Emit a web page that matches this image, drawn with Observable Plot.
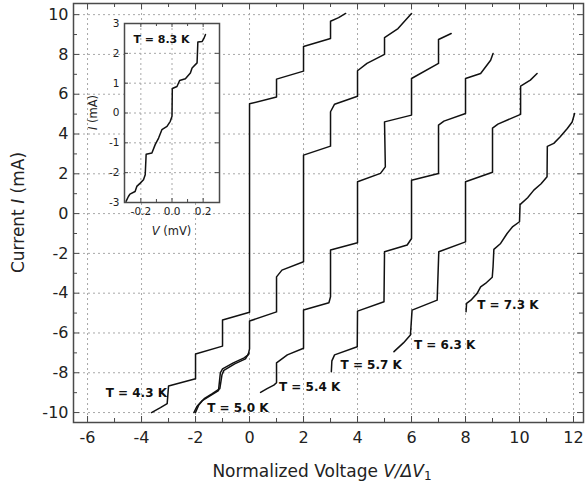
<!DOCTYPE html>
<html><head><meta charset="utf-8">
<script src="https://cdn.jsdelivr.net/npm/d3@7"></script>
<script src="https://cdn.jsdelivr.net/npm/@observablehq/plot@0.6"></script>
<style>
html,body{margin:0;padding:0;background:#fff;}
#wrap{position:relative;width:585px;height:491px;overflow:hidden;}
#inset{position:absolute;left:90px;top:15px;}
svg{font-family:"DejaVu Sans",sans-serif;}
</style></head><body>
<div id="wrap"><div id="main"></div><div id="inset"></div></div>
<script>
// ---------- data ----------
const v43 = [-3.63, -3.3, -3.05, -3.0, -2.0, -2.0, -1.0, -1.0, 0.0, 0.0, 1.0, 1.0, 2.0, 2.0, 3.0, 3.0, 3.3, 3.56];
const i43 = [-10.0, -9.75, -9.55, -8.67, -8.3, -7.06, -6.66, -5.35, -4.96, 5.52, 5.86, 6.76, 7.16, 8.4, 8.8, 9.67, 9.85, 10.06];

const v50 = [-2.06, -1.95, -1.75, -1.45, -1.15, -1.08, -1.0, -0.6, -0.2, -0.05, 0.0, 0.0, 1.0, 1.0, 1.2, 2.0, 2.0, 3.0, 3.0, 3.15, 4.0, 4.0, 4.35, 5.0, 5.0, 5.5, 6.0];
const i50 = [-10.0, -9.7, -9.4, -9.15, -8.9, -8.0, -7.8, -7.5, -7.25, -7.1, -6.8, -5.4, -4.94, -3.18, -2.84, -2.42, 2.94, 3.39, 5.12, 5.5, 5.9, 7.18, 7.55, 8.0, 8.85, 9.3, 10.06];
const v50b = [-2.0, -1.88, -1.68, -1.38, -1.1, -1.02, -0.95, -0.55, -0.15, -0.02];
const i50b = [-10.0, -9.62, -9.3, -9.05, -8.8, -8.1, -7.88, -7.55, -7.3, -7.0];

const v54 = [0.41, 0.65, 0.9, 1.0, 1.0, 1.4, 2.0, 2.0, 2.94, 3.0, 3.0, 4.0, 4.0, 4.85, 5.03, 5.0, 6.0, 6.0, 7.0, 7.0, 7.47];
const i54 = [-8.99, -8.8, -8.62, -8.5, -7.5, -7.1, -6.77, -4.85, -4.48, -4.18, -1.83, -1.47, 1.6, 2.02, 2.35, 4.61, 4.95, 6.79, 7.55, 8.75, 9.05];

const v57 = [3.03, 3.05, 3.15, 3.99, 4.0, 4.98, 5.0, 5.84, 6.0, 6.0, 7.0, 7.0, 7.2, 8.0, 8.0, 8.56, 8.93, 9.02];
const i57 = [-7.95, -7.4, -7.1, -6.69, -4.9, -4.43, -1.92, -1.58, -1.25, 1.68, 2.02, 4.45, 4.65, 5.03, 6.79, 7.04, 7.71, 8.05];

const v63 = [5.35, 5.7, 5.96, 6.02, 6.95, 7.01, 8.0, 8.0, 9.0, 9.0, 9.2, 10.04, 10.04, 10.4, 10.65];
const i63 = [-6.94, -6.5, -6.1, -4.85, -4.35, -1.92, -1.42, 1.6, 2.08, 4.3, 4.5, 4.99, 6.41, 6.71, 7.04];

const v73 = [8.02, 8.04, 8.2, 8.43, 8.56, 8.74, 8.99, 9.02, 9.05, 9.3, 9.54, 9.75, 10.0, 10.02, 10.3, 10.53, 10.8, 11.02, 11.03, 11.27, 11.5, 11.77, 11.95, 12.04];
const i73 = [-4.93, -4.51, -4.35, -4.01, -3.68, -3.51, -3.2, -2.67, -1.8, -1.5, -1.0, -0.65, -0.41, 0.45, 0.8, 1.18, 1.5, 1.85, 3.38, 3.53, 3.85, 4.28, 4.6, 5.03];

// inset, T = 8.3 K
const vInset = [-0.295, -0.28, -0.27, -0.237, -0.226, -0.204, -0.183, -0.172, -0.166, -0.129, -0.108, -0.086, -0.065, -0.032, -0.011, 0.0, 0.002, 0.032, 0.049, 0.086, 0.118, 0.129, 0.161, 0.166, 0.194, 0.204, 0.215];
const iInset = [-2.96, -2.8, -2.72, -2.63, -2.46, -2.35, -2.24, -2.07, -1.38, -1.34, -1.06, -0.84, -0.56, -0.45, -0.28, -0.11, 0.82, 0.89, 1.09, 1.15, 1.34, 1.51, 1.68, 2.38, 2.40, 2.49, 2.63];

// curve labels
const labelText = ["T = 4.3 K", "T = 5.0 K", "T = 5.4 K", "T = 5.7 K", "T = 6.3 K", "T = 7.3 K"];
const labelV = [-5.33, -1.57, 1.09, 3.37, 6.09, 8.43];
const labelI = [-9.04, -9.79, -8.7, -7.61, -6.61, -4.6];
const insetLabel = ["T = 8.3 K"];
const insetLabelV = [-0.248];
const insetLabelI = [2.46];

// ticks
const xMajor = [-6, -4, -2, 0, 2, 4, 6, 8, 10, 12];
const xMinor = [-5, -3, -1, 1, 3, 5, 7, 9, 11];
const yMajor = [-10, -8, -6, -4, -2, 0, 2, 4, 6, 8, 10];
const yMinor = [-9, -7, -5, -3, -1, 1, 3, 5, 7, 9];
const xInsetTicks = [-0.2, 0.0, 0.2];
const xInsetMinor = [-0.1, 0.1];
const yInsetTicks = [-3, -2, -1, 0, 1, 2, 3];

// ---------- build ----------
const series = [
  {t: "4.3", v: v43, i: i43},
  {t: "5.0", v: v50, i: i50},
  {t: "5.0b", v: v50b, i: i50b},
  {t: "5.4", v: v54, i: i54},
  {t: "5.7", v: v57, i: i57},
  {t: "6.3", v: v63, i: i63},
  {t: "7.3", v: v73, i: i73}
];
const curveData = series.flatMap(s => s.v.map((v, k) => ({t: s.t, v, i: s.i[k]})));
const labels = labelText.map((text, k) => ({text, v: labelV[k], i: labelI[k]}));
const insetData = vInset.map((v, k) => ({v, i: iInset[k]}));
const insetLabels = insetLabel.map((text, k) => ({text, v: insetLabelV[k], i: insetLabelI[k]}));

const W = 585, H = 491, mL = 73, mR = 2, mT = 3, mB = 69;
const innerW = W - mL - mR, innerH = H - mT - mB;
const frameColor = "#4a4a4a";
const gridStyle = {stroke: "#a8a8a8", strokeOpacity: 1, strokeWidth: 1, strokeDasharray: "2,3"};
const fmt = d => String(d);

const main = Plot.plot({
  width: W, height: H,
  marginLeft: mL, marginRight: mR, marginTop: mT, marginBottom: mB,
  style: {fontFamily: "DejaVu Sans, sans-serif", background: "white", color: "#222"},
  x: {domain: [-6.52, 12.37]},
  y: {domain: [-10.5, 10.56]},
  marks: [
    Plot.gridX(xMajor, gridStyle),
    Plot.gridY(yMajor, gridStyle),
    Plot.line(curveData, {x: "v", y: "i", z: "t", stroke: "#111", strokeWidth: 1.5, curve: "linear"}),
    Plot.text(labels, {x: "v", y: "i", text: "text", textAnchor: "start", fontWeight: "bold", fontSize: 12, fill: "#111"}),
    Plot.frame({stroke: frameColor, strokeWidth: 1.5}),
    Plot.ruleX(xMajor, {insetTop: innerH - 6, stroke: frameColor}),
    Plot.ruleX(xMajor, {insetBottom: innerH - 6, stroke: frameColor}),
    Plot.ruleX(xMinor, {insetTop: innerH - 4, stroke: frameColor}),
    Plot.ruleX(xMinor, {insetBottom: innerH - 4, stroke: frameColor}),
    Plot.ruleY(yMajor, {insetRight: innerW - 6, stroke: frameColor}),
    Plot.ruleY(yMajor, {insetLeft: innerW - 6, stroke: frameColor}),
    Plot.ruleY(yMinor, {insetRight: innerW - 4, stroke: frameColor}),
    Plot.ruleY(yMinor, {insetLeft: innerW - 4, stroke: frameColor}),
    Plot.axisX(xMajor, {tickSize: 0, tickPadding: 9, fontSize: 16, label: null, tickFormat: fmt, fill: "#222"}),
    Plot.axisY(yMajor, {tickSize: 0, tickPadding: 5, fontSize: 16, label: null, tickFormat: fmt, fill: "#222"})
  ]
});
document.getElementById("main").appendChild(main);

// axis titles
const ms = d3.select(main);
const xt = ms.append("text").attr("x", 322).attr("y", 477)
  .attr("text-anchor", "middle").attr("font-size", 17).attr("fill", "#222");
xt.append("tspan").text("Normalized Voltage ");
xt.append("tspan").attr("font-style", "italic").text("V/ΔV");
xt.append("tspan").attr("font-size", 12).attr("dy", 3).text("1");
const yt = ms.append("text").attr("transform", `translate(24,${mT + innerH / 2}) rotate(-90)`)
  .attr("text-anchor", "middle").attr("font-size", 17).attr("fill", "#222");
yt.append("tspan").text("Current ");
yt.append("tspan").attr("font-style", "italic").text("I");
yt.append("tspan").text(" (mA)");

// ---------- inset ----------
const IW = 135, IH = 230, imL = 34, imR = 6, imT = 8, imB = 43;
const iInnerW = IW - imL - imR, iInnerH = IH - imT - imB;
const inset = Plot.plot({
  width: IW, height: IH,
  marginLeft: imL, marginRight: imR, marginTop: imT, marginBottom: imB,
  style: {fontFamily: "DejaVu Sans, sans-serif", background: "none", overflow: "visible", color: "#222"},
  x: {domain: [-0.305, 0.305]},
  y: {domain: [-3, 3]},
  marks: [
    Plot.frame({fill: "white", stroke: "none"}),
    Plot.gridX(xInsetTicks, gridStyle),
    Plot.gridY([-2, -1, 0, 1, 2], gridStyle),
    Plot.line(insetData, {x: "v", y: "i", stroke: "#111", strokeWidth: 1.5}),
    Plot.text(insetLabels, {x: "v", y: "i", text: "text", textAnchor: "start", fontWeight: "bold", fontSize: 11, fill: "#111"}),
    Plot.frame({stroke: frameColor, strokeWidth: 1.5}),
    Plot.ruleX(xInsetTicks, {insetTop: iInnerH - 4, stroke: frameColor}),
    Plot.ruleX(xInsetTicks, {insetBottom: iInnerH - 4, stroke: frameColor}),
    Plot.ruleX(xInsetMinor, {insetTop: iInnerH - 3, stroke: frameColor}),
    Plot.ruleX(xInsetMinor, {insetBottom: iInnerH - 3, stroke: frameColor}),
    Plot.ruleY(yInsetTicks, {insetRight: iInnerW - 4, stroke: frameColor}),
    Plot.ruleY(yInsetTicks, {insetLeft: iInnerW - 4, stroke: frameColor}),
    Plot.axisX(xInsetTicks, {tickSize: 0, tickPadding: 5, fontSize: 10.5, label: null, tickFormat: d => d.toFixed(1), fill: "#222"}),
    Plot.axisY(yInsetTicks, {tickSize: 0, tickPadding: 5, fontSize: 10.5, label: null, tickFormat: fmt, fill: "#222"})
  ]
});
document.getElementById("inset").appendChild(inset);
const is = d3.select(inset);
const ixt = is.append("text").attr("x", imL + iInnerW / 2).attr("y", 220)
  .attr("text-anchor", "middle").attr("font-size", 11.5).attr("fill", "#222");
ixt.append("tspan").attr("font-style", "italic").text("V");
ixt.append("tspan").text(" (mV)");
const iyt = is.append("text").attr("transform", `translate(7,${imT + iInnerH / 2}) rotate(-90)`)
  .attr("text-anchor", "middle").attr("font-size", 11.5).attr("fill", "#222");
iyt.append("tspan").attr("font-style", "italic").text("I");
iyt.append("tspan").text(" (mA)");
</script></body></html>
